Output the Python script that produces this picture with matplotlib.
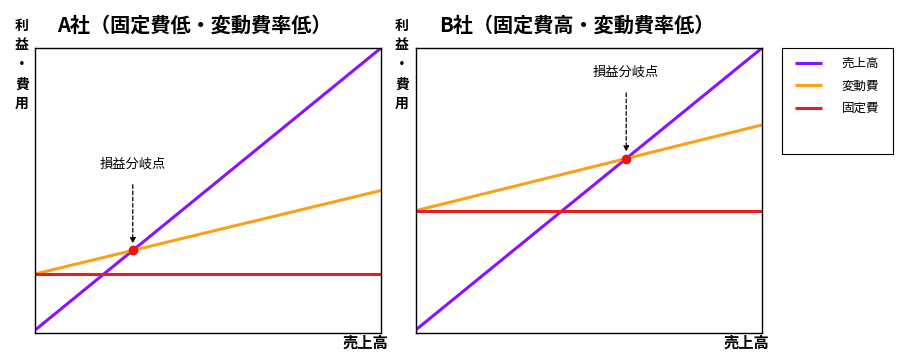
import matplotlib
matplotlib.use("Agg")
import matplotlib.pyplot as plt
import numpy as np

plt.rcParams['font.family'] = ['Noto Sans CJK JP', 'DejaVu Sans']

# 売上高 (x軸) の範囲
x = np.array([0.0, 10.0])
sales = np.array([0.1, 10.0])

# A社: 固定費低・変動費率低
a_fixed = np.array([2.07, 2.07])
a_var = np.array([2.07, 5.0])
# B社: 固定費高・変動費率低
b_fixed = np.array([4.29, 4.29])
b_var = np.array([4.29, 7.3])

titles = ['A社（固定費低・変動費率低）', 'B社（固定費高・変動費率低）']
labels = ['売上高', '変動費', '固定費']
colors = ['#8c12ff', '#f9a11b', '#ec1c1c']

W, H = 908, 359
fig = plt.figure(figsize=(W / 100, H / 100), dpi=100)


def box(l, t, r, b):
    return [l / W, 1 - b / H, (r - l) / W, (b - t) / H]


def breakeven(fixed, var):
    # 売上高線と総費用線の交点
    s_slope = (sales[1] - sales[0]) / (x[1] - x[0])
    v_slope = (var[1] - var[0]) / (x[1] - x[0])
    bx = (var[0] - sales[0]) / (s_slope - v_slope)
    return bx, sales[0] + s_slope * bx


panels = [(box(35, 48, 381, 333), a_fixed, a_var, 57, 22),
          (box(415.5, 48, 762, 333), b_fixed, b_var, 439, 402)]

lines = []
for i, (pos, fixed, var, tx, lx) in enumerate(panels):
    ax = fig.add_axes(pos)
    l1, = ax.plot(x, sales, color=colors[0], lw=2.2, solid_capstyle='butt')
    l2, = ax.plot(x, var, color=colors[1], lw=2.2, solid_capstyle='butt')
    l3, = ax.plot(x, fixed, color=colors[2], lw=2.2, solid_capstyle='butt')
    lines = [l1, l2, l3]
    bx, by = breakeven(fixed, var)
    ax.plot([bx], [by], 'o', color='#ee1111', ms=6, zorder=5)
    ax.annotate('損益分岐点', xy=(bx, by), xytext=(0, 62), textcoords='offset points',
                ha='center', va='center', fontsize=9.5,
                arrowprops=dict(arrowstyle='-|>', linestyle=(0, (3, 2)), color='black',
                                lw=0.9, shrinkA=8, shrinkB=5, mutation_scale=8))
    ax.set_xlim(0, 10)
    ax.set_ylim(0, 10)
    ax.set_xticks([])
    ax.set_yticks([])
    for s in ax.spines.values():
        s.set_linewidth(1.0)
    fig.text(tx / W, 1 - 25 / H, titles[i], fontsize=14.5, fontweight='bold',
             ha='left', va='center')
    fig.text(lx / W, 1 - 19 / H, '利\n益\n・\n費\n用', fontsize=10, fontweight='bold',
             ha='center', va='top', linespacing=1.5)
    fig.text((pos[0] + pos[2]) + 7 / W, 1 - 343 / H, '売上高', fontsize=11,
             fontweight='bold', ha='right', va='center')

lax = fig.add_axes(box(782, 48, 893, 154))
lax.set_xticks([])
lax.set_yticks([])
lax.legend(lines, labels, loc='upper left', bbox_to_anchor=(0.02, 1.02), frameon=False,
           fontsize=9, handlelength=2.1, handletextpad=1.6, labelspacing=0.75)

fig.savefig('out.png', dpi=100)
